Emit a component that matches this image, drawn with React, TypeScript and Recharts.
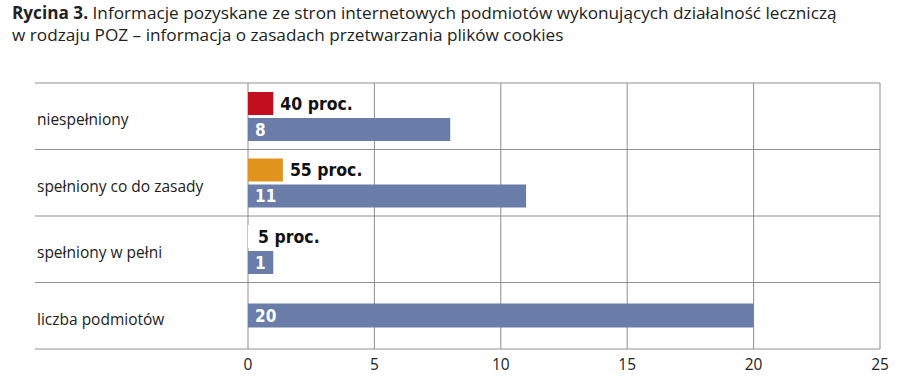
import React from 'react'
import {
  BarChart,
  Bar,
  XAxis,
  YAxis,
  CartesianGrid,
  Cell,
  LabelList
} from 'recharts'

const categories = ['niespełniony', 'spełniony co do zasady', 'spełniony w pełni', 'liczba podmiotów']
const markerValues = [1, 1.38, 0.12, null]
const markerLabels = ['40 proc.', '55 proc.', '5 proc.', null]
const markerColors = ['#C20F1F', '#E0931D', '#FFFFFF']
const countValues = [8, 11, 1, null]
const totalValues = [null, null, null, 20]
const xTicks = [0, 5, 10, 15, 20, 25]

const data = categories.map((name, i) => ({
  name,
  marker: markerValues[i],
  markerLabel: markerLabels[i],
  count: countValues[i],
  total: totalValues[i]
}))

const BLUE = '#6A7CA8'
const GRID = '#8E8E8E'
const TEXT = '#222'
const SANS = "'Open Sans', 'Noto Sans', sans-serif"
const NARROW = "'Liberation Sans Narrow', 'DejaVu Sans Condensed', sans-serif"

const margin = { top: 83, right: 20, bottom: 0, left: 35 }

const CategoryTick = ({ y, payload }: any) => (
  <text x={margin.left + 2} y={y} dy={9} textAnchor="start" fontFamily={SANS} fontSize={15.5} fill={TEXT}>
    {payload.value}
  </text>
)

const App = () => {
  return (
    <div style={{ position: 'absolute', left: 0, top: 0, width: 900, height: 386, background: '#fff' }}>
      <div
        style={{
          position: 'absolute',
          left: 12,
          top: 2,
          fontFamily: SANS,
          fontSize: 17.2,
          lineHeight: '22px',
          color: TEXT
        }}
      >
        <b>Rycina 3.</b> Informacje pozyskane ze stron internetowych podmiotów wykonujących działalność leczniczą
        <br />
        w rodzaju POZ – informacja o zasadach przetwarzania plików cookies
      </div>
      <div style={{ position: 'absolute', left: 0, top: 0 }}>
        <BarChart
          width={900}
          height={386}
          data={data}
          layout="vertical"
          margin={margin}
          barSize={23}
          barGap={3}
        >
          <CartesianGrid
            x={margin.left}
            width={880 - margin.left}
            stroke={GRID}
            horizontalCoordinatesGenerator={({ offset }: any) =>
              [0, 1, 2, 3, 4].map((k) => offset.top + (k * offset.height) / categories.length)
            }
          />
          <XAxis
            type="number"
            domain={[0, 25]}
            ticks={xTicks}
            axisLine={false}
            tickLine={false}
            height={37}
            tickMargin={4}
            tick={{ fontFamily: SANS, fontSize: 15.5, fill: TEXT }}
          />
          <YAxis
            type="category"
            dataKey="name"
            width={213}
            axisLine={false}
            tickLine={false}
            tick={<CategoryTick />}
          />
          <YAxis yAxisId="total" type="category" dataKey="name" hide />
          <Bar dataKey="marker" isAnimationActive={false}>
            {markerColors.map((c, i) => (
              <Cell key={i} fill={c} />
            ))}
            <LabelList
              dataKey="markerLabel"
              position="right"
              offset={7}
              fill="#111"
              fontFamily={NARROW}
              fontWeight="bold"
              fontSize={17.5}
            />
          </Bar>
          <Bar dataKey="count" fill={BLUE} isAnimationActive={false}>
            <LabelList
              dataKey="count"
              position="insideLeft"
              offset={7}
              fill="#fff"
              fontFamily={NARROW}
              fontWeight="bold"
              fontSize={17}
            />
          </Bar>
          <Bar dataKey="total" yAxisId="total" fill={BLUE} barSize={24} isAnimationActive={false}>
            <LabelList
              dataKey="total"
              position="insideLeft"
              offset={7}
              fill="#fff"
              fontFamily={NARROW}
              fontWeight="bold"
              fontSize={17}
            />
          </Bar>
        </BarChart>
      </div>
    </div>
  )
}

export default App
